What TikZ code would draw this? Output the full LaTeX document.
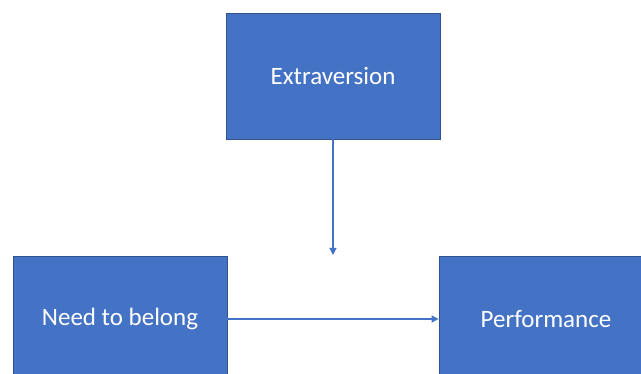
\documentclass[tikz,border=0pt]{standalone}
\usepackage{fontspec}
\setmainfont{Carlito}
\usetikzlibrary{arrows.meta}
\definecolor{officeblue}{RGB}{68, 114, 196}
\definecolor{officeedge}{RGB}{47, 82, 143}

\begin{document}
\begin{tikzpicture}[x=1pt, y=-1pt, >={Triangle[length=7pt, width=7pt]},
    factor/.style={
        draw=officeedge, line width=0.8pt, fill=officeblue,
        minimum width=214pt, minimum height=126pt, inner sep=0pt,
        text=white, font=\fontsize{25}{30}\selectfont
    },
    link/.style={->, line width=1.1pt, officeblue},
]

% --- Coordinates ---
\def\xleft{120}
\def\xmid{333}
\def\xright{546}
\def\ytop{76}
\def\ybottom{319}

\useasboundingbox (0,0) rectangle (641,374);
\clip (0,0) rectangle (641,374);

% --- Boxes ---
\node[factor] (extra) at (\xmid, \ytop)    {Extraversion};
\node[factor] (need)  at (\xleft, \ybottom)  {Need to belong};
\node[factor] (perf)  at (\xright, \ybottom) {Performance};

% --- Moderator arrow, ends on the main path ---
\coordinate (mod_end) at (\xmid, 255);
\draw[link] (extra.south) -- (mod_end);

% --- Main effect ---
\draw[link] (need.east) -- (perf.west);

\end{tikzpicture}
\end{document}
